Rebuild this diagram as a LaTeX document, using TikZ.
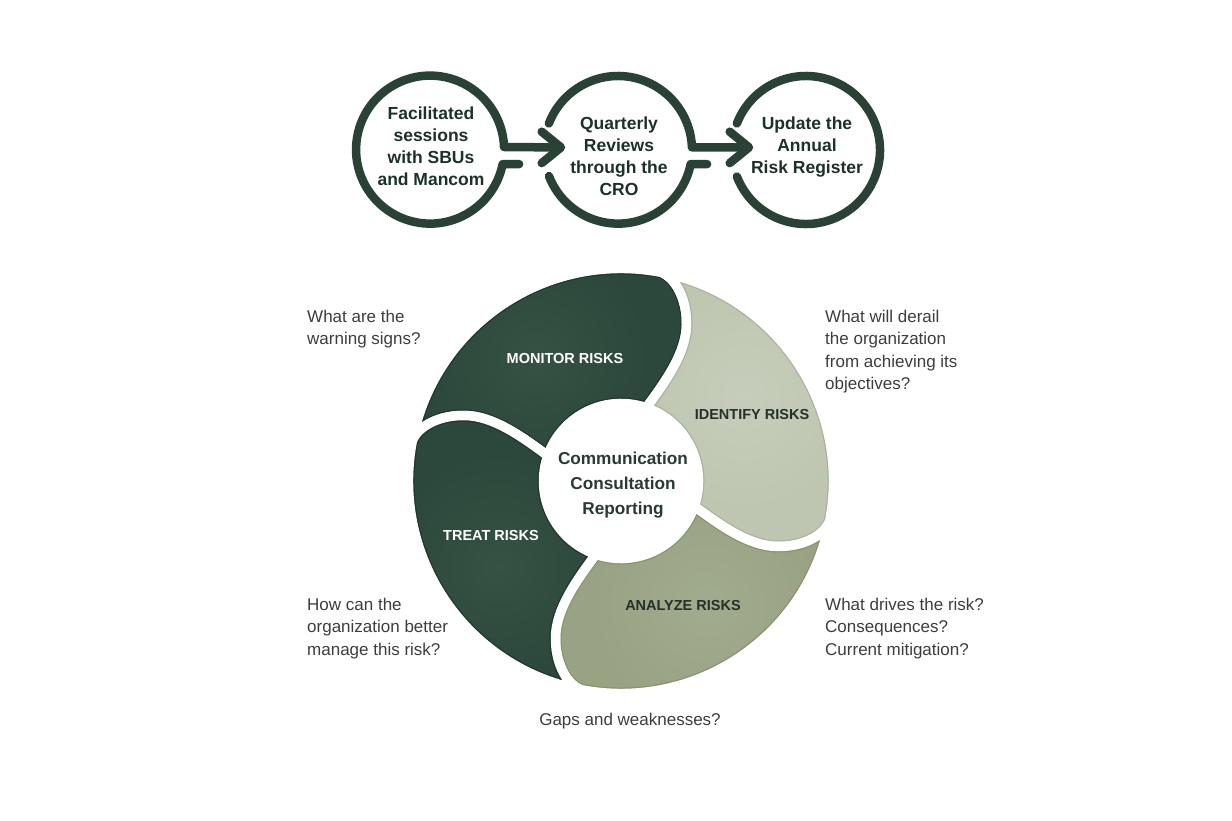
\documentclass[tikz,border=0pt]{standalone}
\usepackage{fontspec}
\setmainfont{Liberation Sans}
\usetikzlibrary{calc}
\definecolor{dkg}{HTML}{2C473B}
\definecolor{dkgin}{HTML}{355244}
\definecolor{dkgline}{HTML}{1F352B}
\definecolor{idg}{HTML}{BEC6B1}
\definecolor{idgin}{HTML}{C6CDBA}
\definecolor{idgline}{HTML}{A9B29C}
\definecolor{ang}{HTML}{99A384}
\definecolor{angin}{HTML}{A1AB8D}
\definecolor{angline}{HTML}{87926F}
\definecolor{ringc}{HTML}{2A4236}
\definecolor{qtxt}{HTML}{3D3D3D}
\definecolor{ctxt}{HTML}{1E3128}
\definecolor{mtxt}{HTML}{2A3932}
\definecolor{lbldark}{HTML}{25302A}
\newcommand{\segpath}{(169:212.5pt) arc[start angle=169, end angle=79, radius=212.5pt] .. controls (56,202) and (66,180) .. (65.5,156) .. controls (65,128) and (45,100) .. (71:77.5pt) arc[start angle=71, end angle=161, radius=77.5pt] .. controls (-100,45) and (-128,65) .. (-156,65.5) .. controls (-180,66) and (-202,56) .. (169:212.5pt) -- cycle}
\newcommand{\ctrline}[1]{\hbox to 0pt{\hss#1\hss}}
\newcommand{\lftline}[1]{\hbox{#1}}
\begin{document}
\begin{tikzpicture}[x=1pt,y=1pt,
  ring/.style={draw=ringc, line width=8.5pt, line cap=round, line join=round},
  circ/.style={circle, minimum size=148pt, inner sep=0pt, outer sep=0pt},
  ctext/.style={inner sep=0pt, text=ctxt, font=\fontsize{17.5pt}{22pt}\selectfont\bfseries, anchor=base},
  qtext/.style={inner sep=0pt, text=qtxt, font=\fontsize{17pt}{22.5pt}\selectfont, anchor=base west},
  mtext/.style={inner sep=0pt, text=mtxt, font=\fontsize{17.2pt}{25pt}\selectfont\bfseries, anchor=base},
  seglbl/.style={inner sep=0pt, font=\fontsize{14.5pt}{17pt}\selectfont\bfseries, anchor=base}]
\fill[white] (0,0) rectangle (1232,-821);
\useasboundingbox (0,0) rectangle (1232,-821);

% ---- cycle segments ----
\foreach \rot/\fc/\ic/\lc in {0/dkg/dkgin/dkgline, -90/idg/idgin/idgline, -180/ang/angin/angline, -270/dkg/dkgin/dkgline}{
  \begin{scope}[shift={(621,-481)}, rotate=\rot]
    \begin{scope}
      \clip \segpath;
      \fill[\fc] \segpath;
      \shade[inner color=\ic, outer color=\fc] (125:150pt) circle (115pt);
      \draw[\lc, line width=12pt] \segpath;
    \end{scope}
    \draw[white, line width=9.5pt, line join=round] \segpath;
  \end{scope}
}

% ---- top circles ----
\node[circ] (c1) at (430,-150) {};
\node[circ] (c2) at (618,-150) {};
\node[circ] (c3) at (806,-150) {};
\coordinate (tip1) at ($(c2.west)+(17pt,2.6pt)$);
\coordinate (tip2) at ($(c3.west)+(17pt,2.6pt)$);

\draw[ring] ($(c1.-11.3)+(16.5pt,0)$) -- (c1.-11.3) arc[start angle=-11.3, end angle=-358, radius=74pt] -- ($(tip1)+(-6pt,0)$);
\draw[ring] ($(tip1)+(-19.3pt,15.7pt)$) -- (tip1) -- ($(tip1)+(-19.3pt,-15.7pt)$);

\draw[ring] ($(c2.-11.3)+(16.5pt,0)$) -- (c2.-11.3) arc[start angle=-11.3, end angle=-159, radius=74pt];
\draw[ring] (c2.159) arc[start angle=159, end angle=2, radius=74pt] -- ($(tip2)+(-6pt,0)$);
\draw[ring] ($(tip2)+(-19.3pt,15.7pt)$) -- (tip2) -- ($(tip2)+(-19.3pt,-15.7pt)$);

\draw[ring] (c3.159) arc[start angle=159, end angle=-159, radius=74pt];

\node[ctext] (t1) at (431,-119.5) {\vtop{\ctrline{Facilitated}\ctrline{sessions}\ctrline{with SBUs}\ctrline{and Mancom}}};
\node[ctext] (t2) at (619,-130) {\vtop{\ctrline{Quarterly}\ctrline{Reviews}\ctrline{through the}\ctrline{CRO}}};
\node[ctext] (t3) at (807,-130) {\vtop{\ctrline{Update the}\ctrline{Annual}\ctrline{Risk Register}}};

% ---- centre text ----
\node[mtext] (ctr) at (623,-464) {\vtop{\ctrline{Communication}\ctrline{Consultation}\ctrline{Reporting}}};

% ---- segment labels ----
\node[seglbl, text=white] (lm) at (565,-363) {MONITOR RISKS};
\node[seglbl, text=lbldark] (li) at (752,-419) {IDENTIFY RISKS};
\node[seglbl, text=white] (lt) at (491,-540) {TREAT RISKS};
\node[seglbl, text=lbldark] (la) at (683,-610) {ANALYZE RISKS};

% ---- questions ----
\node[qtext] (q1) at (307,-322) {\vtop{\lftline{What are the}\lftline{warning signs?}}};
\node[qtext] (q2) at (825,-322) {\vtop{\lftline{What will derail}\lftline{the organization}\lftline{from achieving its}\lftline{objectives?}}};
\node[qtext] (q3) at (307,-610) {\vtop{\lftline{How can the}\lftline{organization better}\lftline{manage this risk?}}};
\node[qtext] (q4) at (825,-610) {\vtop{\lftline{What drives the risk?}\lftline{Consequences?}\lftline{Current mitigation?}}};
\node[qtext, anchor=base] (q5) at (630,-725) {Gaps and weaknesses?};
\end{tikzpicture}
\end{document}
